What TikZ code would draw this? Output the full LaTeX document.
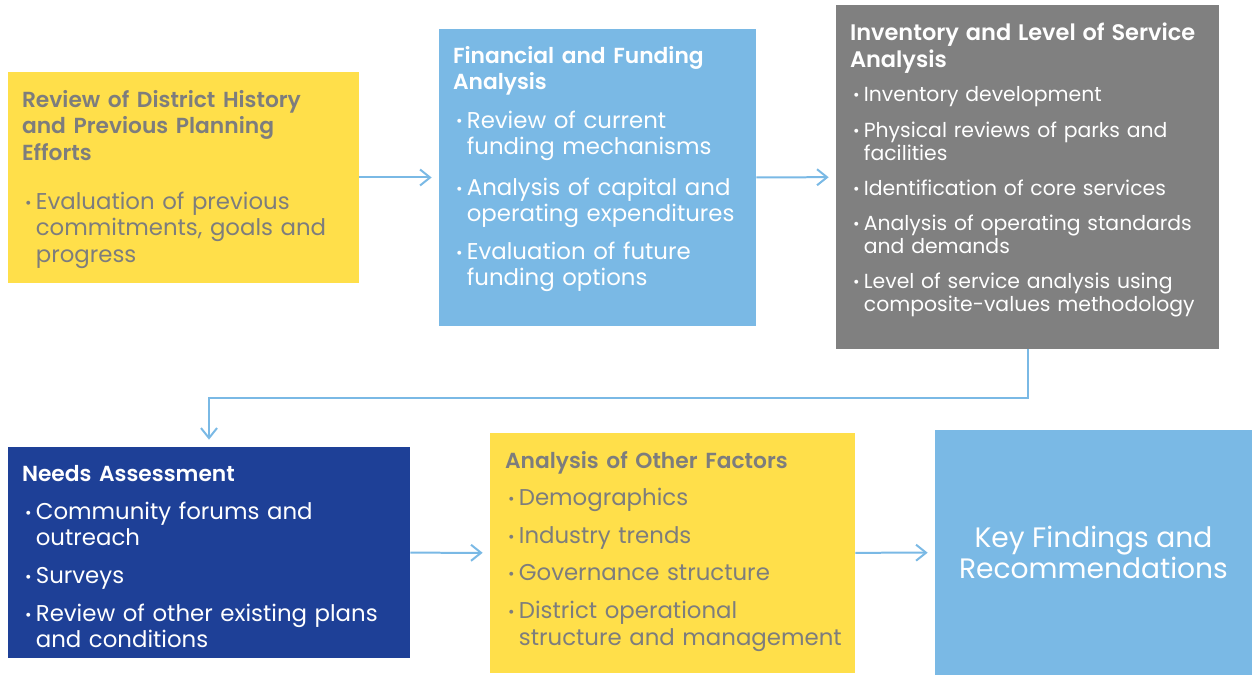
\documentclass[tikz,border=0pt]{standalone}
\usepackage{fontspec}
\setmainfont{Poppins}[BoldFont=* SemiBold]
\usepackage{tikz}
\usetikzlibrary{arrows.meta, calc, positioning, fit}
\definecolor{sunyellow}{RGB}{255,223,74}
\definecolor{skyblue}{RGB}{122,185,229}
\definecolor{slategray}{RGB}{128,128,128}
\definecolor{navyblue}{RGB}{30,64,151}
\definecolor{inkgray}{RGB}{125,125,125}

% bullet item with hanging indent, optional gap above
\newcommand{\bul}[2][6pt]{\par\vspace{#1}\hangindent=7.9pt\hangafter=1\noindent\hspace*{1.8pt}\makebox[6.1pt][l]{\raisebox{0.05em}{\small\textbullet}}#2\par}
% heading size
\newcommand{\hd}[1]{{\fontsize{12.4}{15}\selectfont\textbf{#1}\par}}

\begin{document}
\begin{tikzpicture}[x=0.02cm, y=-0.02cm,
  box/.style={inner sep=0pt, draw=none},
  txt/.style={anchor=base west, inner sep=0pt, align=left},
  flow/.style={draw=skyblue, line width=0.04cm, -{Straight Barb[length=0.2cm, width=0.32cm]}, shorten >=0.14cm}]
  \useasboundingbox (0,0) rectangle (1252,675);
  % boxes
  \node[box, fill=sunyellow, fit={(8,72) (359,283)}] (hist) {};
  \node[box, fill=skyblue, fit={(439,29) (756,326)}] (fin) {};
  \node[box, fill=slategray, fit={(836,5) (1219,349)}] (inv) {};
  \node[box, fill=navyblue, fit={(8,447) (410,658)}] (needs) {};
  \node[box, fill=sunyellow, fit={(490,433) (855,673)}] (other) {};
  \node[box, fill=skyblue, fit={(935,430) (1252,675)}] (keyf) {};
  % texts
  \node[txt, text=inkgray, text width=8cm, font=\fontsize{13}{15.2}\selectfont] (histtxt) at ($(hist.north west)+(14,36)$)
    {\hd{Review of District History\newline and Previous Planning\newline Efforts}
     \bul[12.6pt]{Evaluation of previous\newline commitments, goals and\newline progress}};
  \node[txt, text=white, text width=8cm, font=\fontsize{13}{14.9}\selectfont] (fintxt) at ($(fin.north west)+(14,35)$)
    {\hd{Financial and Funding\newline Analysis}
     \bul[6.8pt]{Review of current\newline funding mechanisms}
     \bul[8.6pt]{Analysis of capital and\newline operating expenditures}
     \bul[6.4pt]{Evaluation of future\newline funding options}};
  \node[txt, text=white, text width=9cm, font=\fontsize{11.6}{13.1}\selectfont] (invtxt) at ($(inv.north west)+(14,36)$)
    {{\fontsize{12.8}{15.3}\selectfont\textbf{Inventory and Level of Service\newline Analysis}\par}
     \bul[6.5pt]{Inventory development}
     \bul[6.9pt]{Physical reviews of parks and\newline facilities}
     \bul[6.9pt]{Identification of core services}
     \bul[6.9pt]{Analysis of operating standards\newline and demands}
     \bul[6.9pt]{Level of service analysis using\newline composite-values methodology}};
  \node[txt, text=white, text width=9cm, font=\fontsize{13}{14.8}\selectfont] (needstxt) at ($(needs.north west)+(14,35)$)
    {\hd{Needs Assessment}
     \bul[6.8pt]{Community forums and\newline outreach}
     \bul[6.8pt]{Surveys}
     \bul[6.8pt]{Review of other existing plans\newline and conditions}};
  \node[txt, text=inkgray, text width=9cm, font=\fontsize{13}{15.3}\selectfont] (othertxt) at ($(other.north west)+(15,36)$)
    {\hd{Analysis of Other Factors}
     \bul[5.8pt]{Demographics}
     \bul[6.1pt]{Industry trends}
     \bul[6.1pt]{Governance structure}
     \bul[6.1pt]{District operational\newline structure and management}};
  \node[text=white, align=center, inner sep=0pt, font=\fontsize{16}{17.2}\selectfont] (keytxt) at (keyf) {Key Findings and\\Recommendations};
  % connectors
  \draw[flow] (hist) -- (fin);
  \draw[flow] (fin) -- (inv);
  \draw[flow] (inv.south) -- ++(0,49) -| (needs.north);
  \draw[flow] (needs) -- (other);
  \draw[flow] (other) -- (keyf);
\end{tikzpicture}
\end{document}
